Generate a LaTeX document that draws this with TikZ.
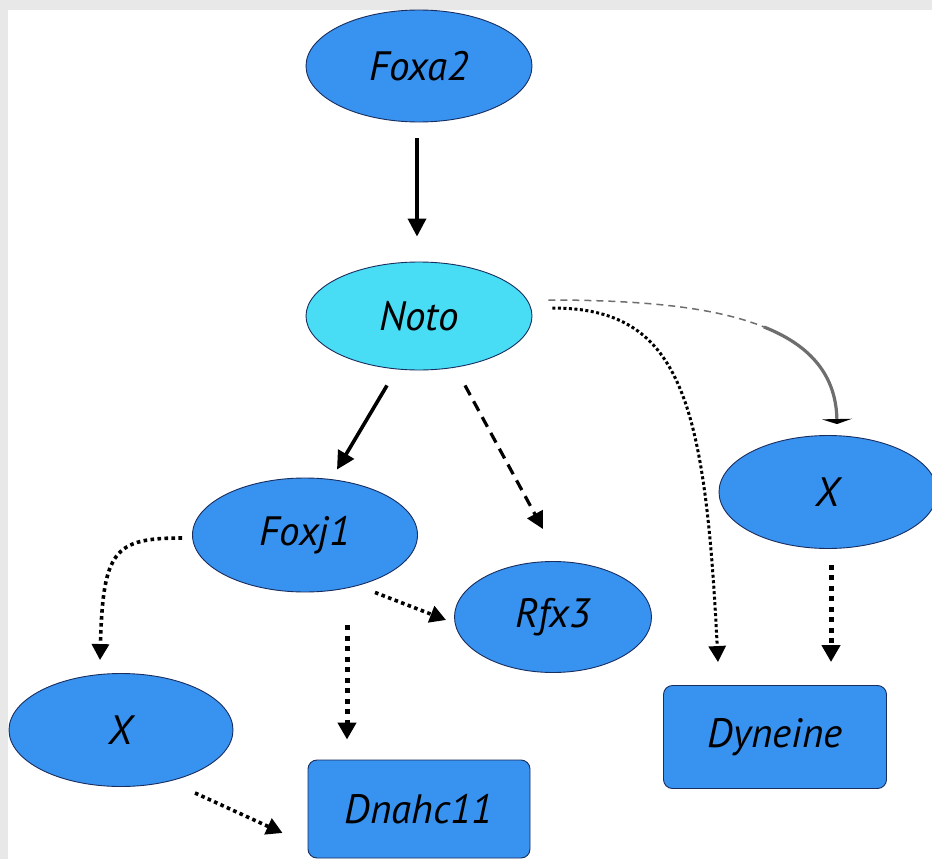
\documentclass[tikz,border=0pt]{standalone}
\usepackage{fontspec}
\setmainfont{PT Sans}
\usepackage{tikz}
\usetikzlibrary{arrows.meta, shapes.geometric, calc}
\definecolor{geneblue}{RGB}{55,146,240}
\definecolor{notocyan}{RGB}{72,220,245}
\definecolor{rimblue}{RGB}{25,45,95}
\definecolor{framegray}{RGB}{232,232,232}
\definecolor{faintgray}{RGB}{110,110,110}

\begin{document}
\begin{tikzpicture}[x=1pt, y=-1pt,
    gene/.style={ellipse, draw=rimblue, line width=0.9pt, fill=geneblue, inner sep=0pt,
                 font=\fontsize{41}{47}\selectfont\itshape},
    target/.style={rectangle, rounded corners=9pt, draw=rimblue, line width=0.9pt, fill=geneblue,
                 inner sep=0pt, font=\fontsize{41}{47}\selectfont\itshape},
    direct/.style={-{Triangle[width=18pt,length=18pt]}, line width=3.6pt},
    maybe/.style={-{Triangle[width=17pt,length=17pt]}, line width=3.2pt, dash pattern=on 11pt off 7pt},
    dotfine/.style={-{Triangle[width=17pt,length=16pt]}, line width=3pt, dash pattern=on 3pt off 2.5pt},
    dotmid/.style={-{Triangle[width=17pt,length=16pt]}, line width=3.6pt, dash pattern=on 3.6pt off 3.4pt},
    dotbold/.style={-{Triangle[width=18pt,length=17pt]}, line width=5pt, dash pattern=on 5pt off 5.5pt}
]
\clip (0,0) rectangle (932,859);
\fill[framegray] (0,0) rectangle (932,859);
\fill[white] (8,10) rectangle (940,870);

% genes
\node[gene, minimum width=226pt, minimum height=112pt] (foxa2) at (419,66) {Foxa2};
\node[gene, fill=notocyan, minimum width=226pt, minimum height=108pt] (noto) at (419,316) {Noto};
\node[gene, minimum width=225pt, minimum height=114pt] (foxj1) at (305,535) {Foxj1};
\node[gene, minimum width=197pt, minimum height=111pt] (rfx3) at (553,617) {Rfx3};
\node[gene, minimum width=224pt, minimum height=113pt] (xleft) at (121,730) {X};
\node[gene, minimum width=218pt, minimum height=113pt] (xright) at (828,492) {X};
\node[target, minimum width=222pt, minimum height=98pt] (dnahc) at (419,809) {Dnahc11};
\node[target, minimum width=223pt, minimum height=103pt] (dyneine) at (775,737) {Dyneine};

% links
\draw[direct] ($(foxa2.south)+(-2,16)$) -- ($(noto.north)+(-2,-25)$);
\draw[direct] ($(noto.south)+(-32,15)$) -- ($(foxj1.north)+(32,-8)$);
\draw[maybe] ($(noto.south)+(46,15)$) -- ($(rfx3.north)+(-10,-32)$);
\draw[dotfine] ($(noto.east)+(20,-8)$) .. controls +(128,0) and +(-13,-263) .. ($(dyneine.north)+(-57,-23)$);
\coordinate (bend) at (764,327);
\draw[faintgray, line width=1.5pt, dash pattern=on 7pt off 5pt]
    ($(noto.east)+(16,-16)$) .. controls +(96,0) and +(-48,-19.5) .. (bend);
\draw[faintgray, line width=3.2pt, -{Triangle[width=30pt,length=5pt,black]}]
    (bend) .. controls +(48,19) and +(-1,-47.5) .. ($(xright.north)+(9,-11)$);
\draw[dotmid] ($(foxj1.west)+(-10,3)$) .. controls +(-68,0) and +(3,-110) .. ($(xleft.north)+(-21,-13)$);
\draw[dotmid] ($(foxj1.south)+(70,0)$) -- ($(rfx3.west)+(-8,3)$);
\draw[dotbold] ($(foxj1.south)+(42,33)$) -- ($(dnahc.north)+(-72,-20)$);
\draw[dotmid] ($(xleft.south)+(74,6)$) -- ($(dnahc.west)+(-25,24)$);
\draw[dotbold] ($(xright.south)+(3,16)$) -- ($(dyneine.north)+(56,-23)$);
\end{tikzpicture}
\end{document}
